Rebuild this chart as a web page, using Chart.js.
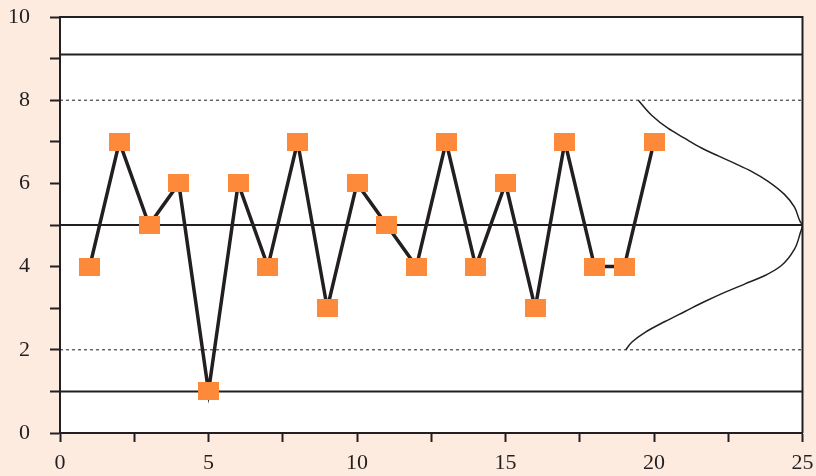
<!DOCTYPE html>
<html>
<head>
<meta charset="utf-8">
<script src="https://cdn.jsdelivr.net/npm/chart.js@4"></script>
<style>
html,body{margin:0;padding:0;background:#fdebe0;}
#wrap{width:816px;height:476px;position:relative;}
</style>
</head>
<body>
<div id="wrap"><canvas id="c" width="816" height="476"></canvas></div>
<script>
// ---- data ----
const sampleNumbers = [1,2,3,4,5,6,7,8,9,10,11,12,13,14,15,16,17,18,19,20];
const measurements  = [4,7,5,6,1,6,4,7,3,6,5,4,7,4,6,3,7,4,4,7];
const centerLine = 5;
const upperControlLimit = 9.1;
const lowerControlLimit = 1;
const upperWarningLimit = 8;
const lowerWarningLimit = 2;
const xRange = [0, 25];
const yRange = [0, 10];
// bell curve (top end to bottom end)
const curveX = [19.47, 19.92, 20.48, 21.04, 21.60, 22.16, 22.72, 23.28, 23.84, 24.40, 24.73, 24.93, 25.0,
                24.93, 24.73, 24.28, 23.72, 23.05, 22.38, 21.71, 21.04, 20.37, 19.70, 19.25, 19.05];
const curveY = [8.0,   7.64,  7.32,  7.08,  6.85,  6.66,  6.48,  6.29,  6.05,  5.73,  5.43,  5.07,  5.0,
                4.82,  4.42,  4.02,  3.78,  3.58,  3.38,  3.16,  2.92,  2.68,  2.42,  2.18,  2.0];

const INK = '#231f20';
const ORANGE = '#fd8a3b';

function hLine(v) { return xRange.map(x => ({x: x, y: v})); }

const marker = document.createElement('canvas');
marker.width = 21; marker.height = 18;
(function(){ const g = marker.getContext('2d'); g.fillStyle = ORANGE; g.fillRect(0,0,21,18); })();

const frame = {
  id: 'frame',
  beforeDraw(chart) {
    const {ctx, chartArea: a} = chart;
    ctx.save();
    ctx.fillStyle = '#ffffff';
    ctx.fillRect(a.left, a.top, a.right - a.left, a.bottom - a.top);
    ctx.restore();
  },
  afterDraw(chart) {
    const {ctx, chartArea: a} = chart;
    ctx.save();
    ctx.strokeStyle = INK;
    ctx.lineWidth = 2;
    ctx.beginPath();
    ctx.moveTo(a.left, a.top); ctx.lineTo(a.right, a.top); ctx.lineTo(a.right, a.bottom);
    ctx.stroke();
    ctx.restore();
  }
};

const font = {family: '"Liberation Serif", "DejaVu Serif", serif', size: 22};

new Chart(document.getElementById('c'), {
  type: 'line',
  data: {
    datasets: [
      {
        data: sampleNumbers.map((x, i) => ({x: x, y: measurements[i]})),
        borderColor: INK, borderWidth: 3.5, tension: 0,
        pointStyle: marker, pointRadius: 10, pointHoverRadius: 10,
        order: 0
      },
      { data: hLine(upperControlLimit), borderColor: INK, borderWidth: 2, pointRadius: 0, order: 2 },
      { data: hLine(centerLine), borderColor: INK, borderWidth: 2, pointRadius: 0, order: 2 },
      { data: hLine(lowerControlLimit), borderColor: INK, borderWidth: 2, pointRadius: 0, order: 2 },
      { data: hLine(upperWarningLimit), borderColor: INK, borderWidth: 1, borderDash: [3,3], pointRadius: 0, order: 3 },
      { data: hLine(lowerWarningLimit), borderColor: INK, borderWidth: 1, borderDash: [3,3], pointRadius: 0, order: 3 },
      {
        data: curveX.map((x, i) => ({x: x, y: curveY[i]})),
        indexAxis: 'y',
        borderColor: INK, borderWidth: 1.5, pointRadius: 0,
        cubicInterpolationMode: 'monotone', order: 1
      }
    ]
  },
  options: {
    responsive: false,
    animation: false,
    devicePixelRatio: 1,
    layout: {padding: {top: 17, right: 12, left: 0, bottom: 0}},
    plugins: {legend: {display: false}, tooltip: {enabled: false}},
    scales: {
      x: {
        type: 'linear', min: xRange[0], max: xRange[1],
        afterFit(s) { s.height = 43; s.paddingLeft = 0; s.paddingRight = 0; },
        border: {color: INK, width: 2},
        grid: {drawOnChartArea: false, drawTicks: true, tickLength: 9, tickColor: INK, tickWidth: 2},
        ticks: {
          stepSize: 2.5, color: INK, font: font, padding: 8, maxRotation: 0,
          callback: v => (v % 5 === 0 ? String(v) : '')
        }
      },
      y: {
        type: 'linear', min: yRange[0], max: yRange[1],
        afterFit(s) { s.width = 60; s.paddingTop = 0; s.paddingBottom = 0; },
        border: {color: INK, width: 2},
        grid: {drawOnChartArea: false, drawTicks: true, tickLength: 10, tickColor: INK, tickWidth: 2},
        ticks: {
          stepSize: 1, color: INK, font: font, padding: 20,
          callback: v => (v % 2 === 0 ? String(v) : '')
        }
      }
    }
  },
  plugins: [frame]
});
</script>
</body>
</html>
